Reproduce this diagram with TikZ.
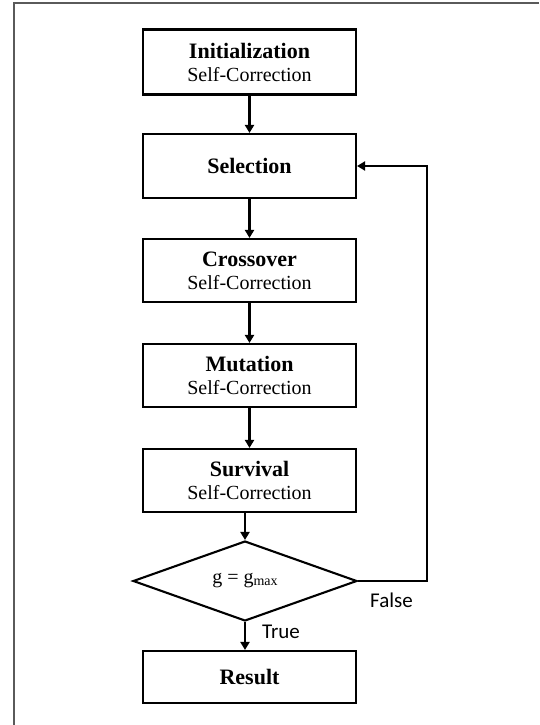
\documentclass[tikz,border=0pt]{standalone}
\usepackage{fontspec}
\setmainfont{Liberation Serif}
\newfontfamily\lblfont{Carlito}
\usetikzlibrary{arrows.meta,shapes.geometric}
\definecolor{framegray}{RGB}{90,90,90}
\begin{document}
\begin{tikzpicture}[x=1pt,y=-1pt,
  stepbox/.style={draw=black,line width=2.1pt,minimum width=213pt,minimum height=64pt,
    inner sep=0pt,align=center,font=\fontsize{20}{23}\selectfont},
  decbox/.style={draw=black,line width=2.1pt,diamond,minimum width=224pt,minimum height=56pt,
    inner sep=0pt,font=\fontsize{20}{23}\selectfont},
  flow/.style={line width=2.1pt,-{Triangle[length=8pt,width=9pt]}},
  lbl/.style={font=\lblfont\fontsize{21}{24}\selectfont,inner sep=0pt}]
\useasboundingbox (0,0) rectangle (539,725);
% frame
\coordinate (fbl) at (13.5,725);
\coordinate (ftl) at (13.5,3.5);
\coordinate (ftr) at (539,3.5);
\draw[framegray,line width=2pt] (fbl) -- (ftl) -- (ftr);
% nodes
\node[stepbox,minimum height=65pt] (init) at (249.5,62) {{\bfseries\fontsize{22}{23}\selectfont Initialization}\\Self-Correction};
\node[stepbox] (sel) at (249.5,166) {\bfseries\fontsize{22}{23}\selectfont Selection};
\node[stepbox,minimum height=63pt] (cross) at (249.5,270.5) {{\bfseries\fontsize{22}{23}\selectfont Crossover}\\Self-Correction};
\node[stepbox,minimum height=63pt] (mut) at (249.5,375.5) {{\bfseries\fontsize{22}{23}\selectfont Mutation}\\Self-Correction};
\node[stepbox,minimum height=63pt] (surv) at (249.5,480.5) {{\bfseries\fontsize{22}{23}\selectfont Survival}\\Self-Correction};
\node[decbox] (dec) at (245,581) {g = g{\fontsize{14}{14}\selectfont\raisebox{-0.3ex}{max}}};
\node[stepbox,minimum height=52pt] (res) at (249.5,677) {\bfseries\fontsize{22}{23}\selectfont Result};
\coordinate (fb) at (427,581);
% connectors
\draw[flow] (init) -- (sel);
\draw[flow] (sel) -- (cross);
\draw[flow] (cross) -- (mut);
\draw[flow] (mut) -- (surv);
\draw[flow] (surv.south -| dec.north) -- (dec.north);
\draw[flow] (dec.south) -- (dec.south |- res.north);
\draw[flow] (dec.east) -- (fb) |- (sel.east);
% labels
\node[lbl,anchor=west] (tlab) at (262,632) {True};
\node[lbl,anchor=west] (flab) at (370,600) {False};
\end{tikzpicture}
\end{document}
